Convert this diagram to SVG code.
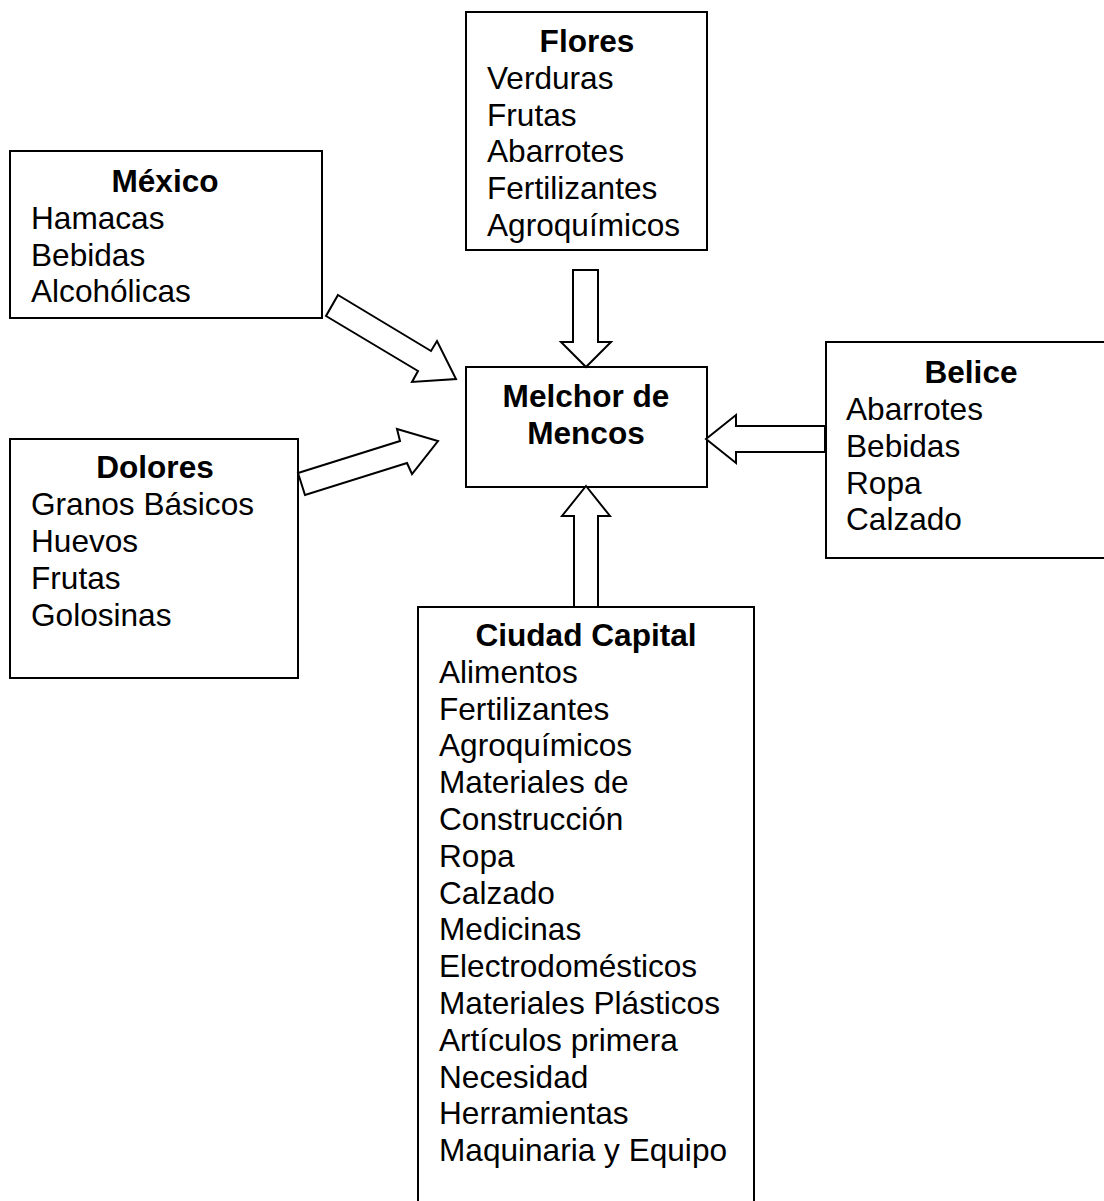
<svg xmlns="http://www.w3.org/2000/svg" width="1104" height="1201" viewBox="0 0 1104 1201">
<style>
.box{fill:#fff;stroke:#000;stroke-width:2}
.arr{fill:#fff;stroke:#000;stroke-width:2;stroke-linejoin:miter}
text{font-family:"Liberation Sans",Arial,sans-serif;font-size:31.6px;fill:#000}
.t{font-weight:bold;text-anchor:middle}
</style>
<rect width="1104" height="1201" fill="#fff"/>
<g id="flores">
<rect class="box" x="466" y="12" width="241" height="238"/>
<text class="t" x="587" y="52">Flores</text>
<text x="487" y="89">Verduras</text>
<text x="487" y="126">Frutas</text>
<text x="487" y="162">Abarrotes</text>
<text x="487" y="199">Fertilizantes</text>
<text x="487" y="236">Agroquímicos</text>
</g>
<g id="mexico">
<rect class="box" x="10" y="151" width="312" height="167"/>
<text class="t" x="165" y="192">México</text>
<text x="31" y="229">Hamacas</text>
<text x="31" y="266">Bebidas</text>
<text x="31" y="302">Alcohólicas</text>
</g>
<g id="dolores">
<rect class="box" x="10" y="439" width="288" height="239"/>
<text class="t" x="155" y="478">Dolores</text>
<text x="31" y="515">Granos Básicos</text>
<text x="31" y="552">Huevos</text>
<text x="31" y="589">Frutas</text>
<text x="31" y="626">Golosinas</text>
</g>
<g id="melchor">
<rect class="box" x="466" y="367" width="241" height="120"/>
<text class="t" x="586" y="407">Melchor de</text>
<text class="t" x="586" y="444">Mencos</text>
</g>
<g id="belice">
<rect class="box" x="826" y="342" width="290" height="216"/>
<text class="t" x="971" y="383">Belice</text>
<text x="846" y="420">Abarrotes</text>
<text x="846" y="457">Bebidas</text>
<text x="846" y="494">Ropa</text>
<text x="846" y="530">Calzado</text>
</g>
<g id="ciudad">
<rect class="box" x="418" y="607" width="336" height="610"/>
<text class="t" x="586" y="646">Ciudad Capital</text>
<text x="439" y="683">Alimentos</text>
<text x="439" y="720">Fertilizantes</text>
<text x="439" y="756">Agroquímicos</text>
<text x="439" y="793">Materiales de</text>
<text x="439" y="830">Construcción</text>
<text x="439" y="867">Ropa</text>
<text x="439" y="904">Calzado</text>
<text x="439" y="940">Medicinas</text>
<text x="439" y="977">Electrodomésticos</text>
<text x="439" y="1014">Materiales Plásticos</text>
<text x="439" y="1051">Artículos primera</text>
<text x="439" y="1088">Necesidad</text>
<text x="439" y="1124">Herramientas</text>
<text x="439" y="1161">Maquinaria y Equipo</text>
</g>
<g id="connectors">
<polygon class="arr" points="573,270 598,270 598,342 611,342 586,367 561,342 573,342"/>
<polygon class="arr" points="574,607 598,607 598,516 610,516 586,486 562,516 574,516"/>
<polygon class="arr" points="825,426 736,426 736,415 706,439 736,463 736,452 825,452"/>
<polygon class="arr" points="338,295 431,351 437,341 456,379 412,382 418,371 326,316"/>
<polygon class="arr" points="298,473 400,441 397,429 438,441 412,474 407,463 305,495"/>
</g>
</svg>
